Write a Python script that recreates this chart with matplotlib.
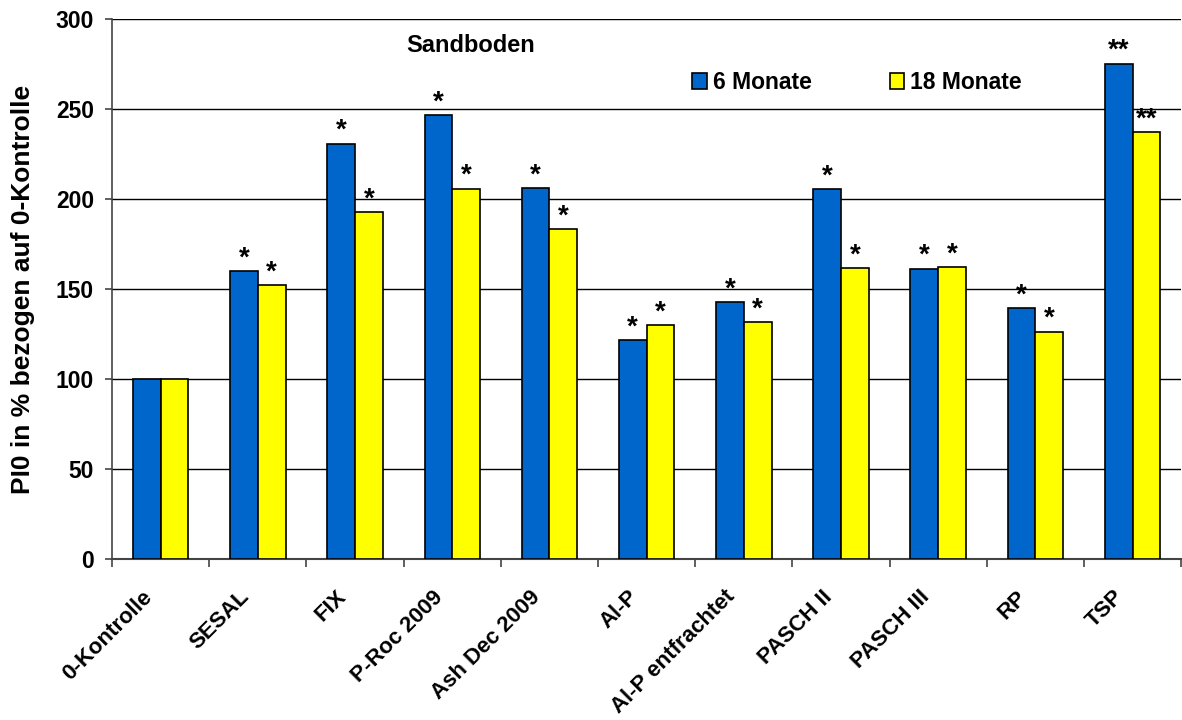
import numpy as np
import matplotlib.pyplot as plt
import matplotlib.transforms as mtransforms
from matplotlib.ticker import FixedLocator

plt.rcParams['font.family'] = ['Liberation Sans', 'DejaVu Sans']
plt.rcParams['font.weight'] = 'bold'

# Daten
kategorien = ["0-Kontrolle", "SESAL", "FIX", "P-Roc 2009", "Ash Dec 2009", "Al-P",
              "Al-P entfrachtet", "PASCH II", "PASCH III", "RP", "TSP"]
monate_6 = [100, 160, 231, 247, 206.5, 122, 143, 205.5, 161.5, 139.5, 275.5]
monate_18 = [100, 152.5, 193, 206, 183.5, 130, 132, 162, 162.5, 126.5, 237.5]
stern_6 = ["", "*", "*", "*", "*", "*", "*", "*", "*", "*", "**"]
stern_18 = ["", "*", "*", "*", "*", "*", "*", "*", "*", "*", "**"]

blau = "#0066CC"
gelb = "#FFFF00"

fig = plt.figure(figsize=(11.82, 7.2), dpi=100)
ax = fig.add_axes([0.0948, 0.2232, 0.9045, 0.7498])

x = np.arange(len(kategorien))
w = 0.285
b1 = ax.bar(x - w / 2, monate_6, w, color=blau, edgecolor="black", linewidth=1.2,
            label="6 Monate", zorder=3)
b2 = ax.bar(x + w / 2, monate_18, w, color=gelb, edgecolor="black", linewidth=1.2,
            label="18 Monate", zorder=3)

# Signifikanz-Sterne
for xi, v, s in zip(x - w / 2, monate_6, stern_6):
    if s:
        ax.annotate(s, (xi, v), xytext=(0, 4), textcoords="offset points",
                    ha="center", va="baseline", fontsize=20, fontweight="bold")
for xi, v, s in zip(x + w / 2, monate_18, stern_18):
    if s:
        ax.annotate(s, (xi, v), xytext=(0, 4), textcoords="offset points",
                    ha="center", va="baseline", fontsize=20, fontweight="bold")

ax.set_xlim(-0.5, len(kategorien) - 0.5)
ax.set_ylim(0, 300)
ax.set_yticks(np.arange(0, 301, 50))
ax.grid(axis="y", color="black", linewidth=1.0, zorder=0)
ax.set_axisbelow(True)

ax.set_xticks(x)
ax.set_xticklabels(kategorien, rotation=45, ha="right", va="center",
                   rotation_mode="anchor", fontsize=16, fontweight="bold")
ax.tick_params(axis="x", which="major", length=0, pad=27)
verschiebung = mtransforms.ScaledTranslation(-12 / 100, 3 / 100, fig.dpi_scale_trans)
for lab in ax.get_xticklabels():
    lab.set_transform(lab.get_transform() + verschiebung)
ax.xaxis.set_minor_locator(FixedLocator(np.arange(-0.5, len(kategorien), 1.0)))
ax.tick_params(axis="x", which="minor", length=6, width=1.2, color="#444444")
ax.tick_params(axis="y", length=5, width=1.2, color="#444444", labelsize=16.5, pad=8)
for lab in ax.get_yticklabels():
    lab.set_fontweight("bold")

for sp in ["top", "right"]:
    ax.spines[sp].set_visible(False)
ax.spines["left"].set_color("#444444")
ax.spines["left"].set_linewidth(1.2)
ax.spines["bottom"].set_color("#444444")
ax.spines["bottom"].set_linewidth(1.5)

ax.set_ylabel("PI0 in % bezogen auf 0-Kontrolle", fontsize=19, fontweight="bold", labelpad=15)

fig.text(0.398, 0.937, "Sandboden", fontsize=17, fontweight="bold", ha="center", va="center")

fig.legend(handles=[b1, b2], loc="center left", bbox_to_anchor=(0.5854, 0.8854),
           ncol=2, frameon=False, handlelength=0.65, handleheight=0.65,
           handletextpad=0.26, columnspacing=3.4, borderpad=0, borderaxespad=0,
           prop={"size": 16.5, "weight": "bold"})

fig.savefig("out.png", dpi=100)
